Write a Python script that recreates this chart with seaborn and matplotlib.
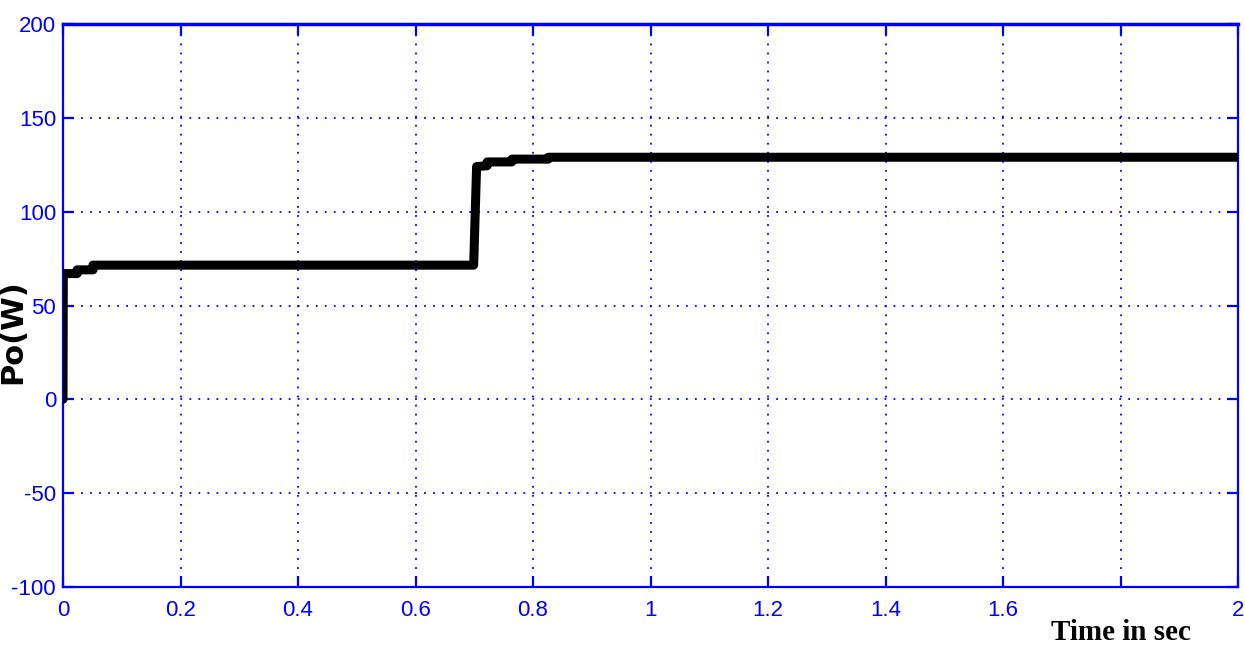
import matplotlib
matplotlib.use("Agg")
import matplotlib.pyplot as plt
import numpy as np
import pandas as pd
import seaborn as sns

# Output power trace (time in s, power in W) as a stepwise settling curve
time_s = [0.0, 0.0005, 0.024, 0.024, 0.051, 0.051, 0.699, 0.704, 0.722, 0.722,
          0.764, 0.764, 0.826, 0.826, 2.0]
power_w = [0.0, 67.0, 67.0, 69.0, 69.0, 71.5, 71.5, 124.0, 124.5, 126.5,
           126.5, 128.0, 128.0, 129.0, 129.0]

# The 1.8 position sits under the axis title, so its label is left blank
x_ticks = [0, 0.2, 0.4, 0.6, 0.8, 1, 1.2, 1.4, 1.6, 1.8, 2]
x_tick_labels = ["0", "0.2", "0.4", "0.6", "0.8", "1", "1.2", "1.4", "1.6", "", "2"]
y_ticks = [-100, -50, 0, 50, 100, 150, 200]
y_tick_labels = ["-100", "-50", "0", "50", "100", "150", "200"]

sns.set_style("white")
plt.rcParams["font.family"] = ["Liberation Sans", "DejaVu Sans"]

blue = "#0000ff"
df = pd.DataFrame({"t": time_s, "p": power_w})

fig = plt.figure(figsize=(12.45, 6.70), dpi=100)
ax = fig.add_axes([63 / 1245, 1 - 587 / 670, 1175 / 1245, 563 / 670])

ax.set_xlim(0, 2)
ax.set_ylim(-100, 200)
ax.set_xticks(x_ticks)
ax.set_xticklabels(x_tick_labels)
ax.set_yticks(y_ticks)
ax.set_yticklabels(y_tick_labels)

ax.grid(True, color=blue, linestyle=(0, (1, 4)), linewidth=1.3)

sns.lineplot(data=df, x="t", y="p", estimator=None, sort=False,
             color="black", linewidth=6.5, ax=ax, zorder=3)

for side in ["left", "right", "top", "bottom"]:
    ax.spines[side].set_visible(True)
    ax.spines[side].set_color(blue)
    ax.spines[side].set_linewidth(1.6)
ax.spines["top"].set_linewidth(2.5)

ax.tick_params(axis="both", which="major", direction="in", length=8, width=1.6,
               color=blue, labelcolor=blue, labelsize=16,
               top=True, right=True, bottom=True, left=True)
ax.tick_params(axis="x", pad=9)
ax.tick_params(axis="y", pad=5)

ax.set_xlabel("Time in sec", family="Liberation Serif", fontweight="bold",
              fontsize=21, color="black")
ax.xaxis.label.set_va("top")
ax.xaxis.set_label_coords(0.9, -0.056)

ax.set_ylabel("Po(W)", family="DejaVu Sans", fontweight="bold",
              fontsize=22, color="black")
ax.yaxis.label.set_va("center")
ax.yaxis.set_label_coords(-0.043, 0.453)

fig.savefig("out.png", dpi=100)
